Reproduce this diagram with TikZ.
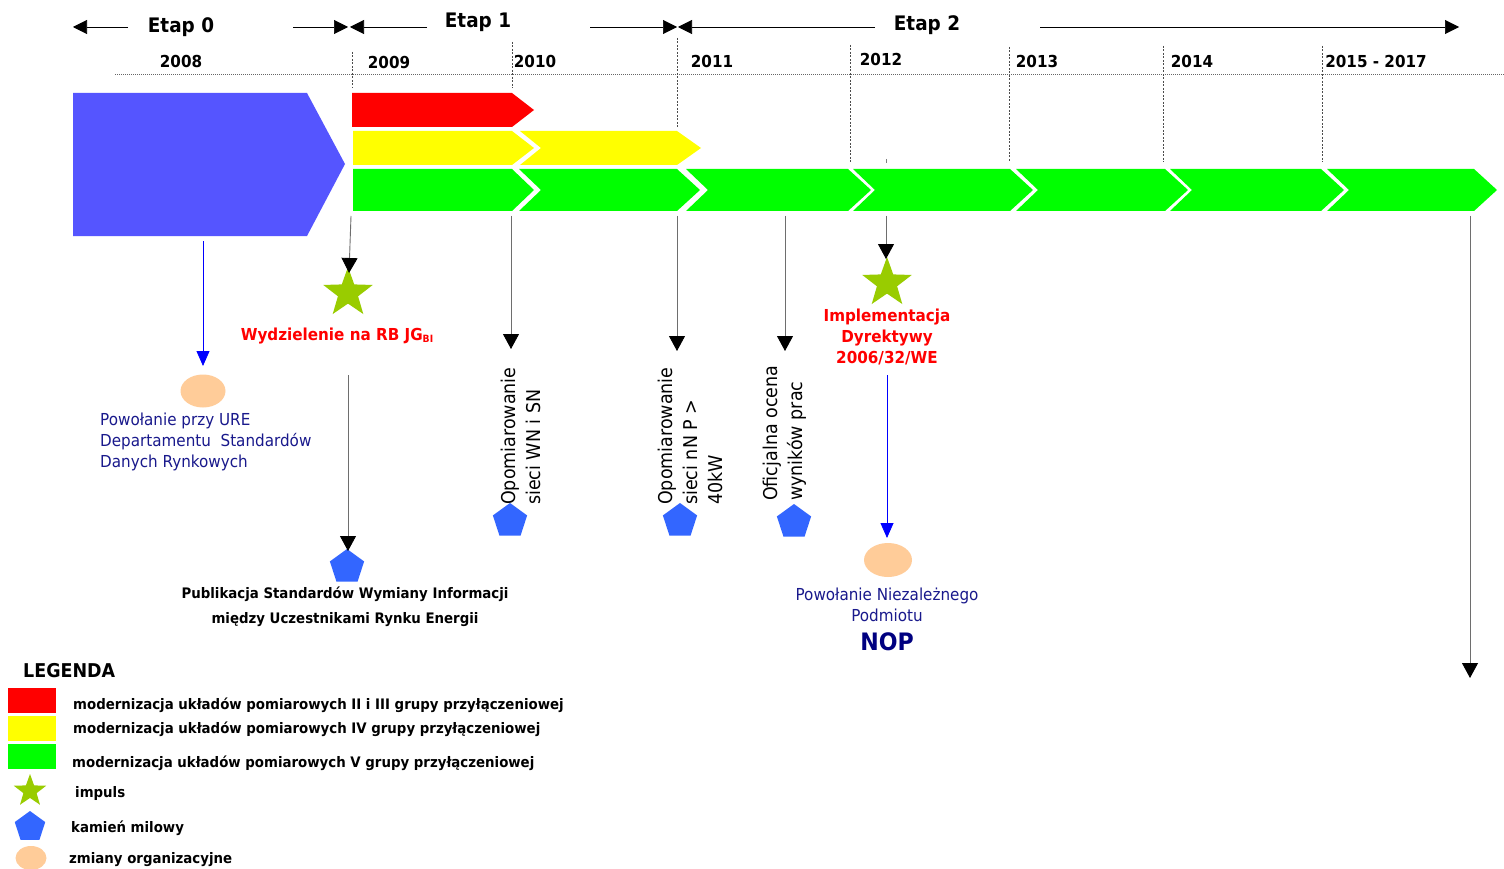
\documentclass[tikz,border=0pt]{standalone}
\usepackage{fontspec}
\setmainfont{DejaVu Sans}[FakeStretch=0.92]
\usetikzlibrary{arrows.meta,shapes.geometric}
\definecolor{blueblk}{RGB}{85,85,255}
\definecolor{ngreen}{RGB}{0,255,0}
\definecolor{nyellow}{RGB}{255,255,0}
\definecolor{nred}{RGB}{255,0,0}
\definecolor{stargreen}{RGB}{153,204,0}
\definecolor{pentblue}{RGB}{51,102,255}
\definecolor{orgpeach}{RGB}{255,204,153}
\definecolor{navytxt}{RGB}{25,25,140}
\definecolor{nopnavy}{RGB}{0,0,128}
\definecolor{linegray}{RGB}{110,110,110}
\tikzset{
  etaparrow/.style={draw=black,line width=0.6pt,-{Triangle[length=14pt,width=14pt]}},
  etaplbl/.style={font=\fontsize{20}{24}\selectfont\bfseries,inner sep=0pt},
  yearlbl/.style={font=\fontsize{16.5}{20}\selectfont\bfseries,inner sep=0pt},
  vdash/.style={draw=black!70,line width=0.6pt,dash pattern=on 2pt off 1.5pt},
  conn/.style={draw=linegray,line width=0.9pt,-{Triangle[length=15pt,width=16pt,color=black]}},
  bconn/.style={draw=blue,line width=0.8pt,-{Triangle[length=15pt,width=13pt,color=blue]}},
  impstar/.style={star,star points=5,star point ratio=2.45,fill=stargreen,minimum size=52pt,inner sep=0pt},
  milestone/.style={regular polygon,regular polygon sides=5,fill=pentblue,minimum size=36pt,inner sep=0pt},
  orgell/.style={ellipse,fill=orgpeach,minimum width=45pt,minimum height=33pt,inner sep=0pt},
  redlbl/.style={font=\fontsize{16.5}{21}\selectfont\bfseries,text=nred,align=center,inner sep=0pt},
  navylbl/.style={font=\fontsize{16.5}{21}\selectfont,text=navytxt,inner sep=0pt},
  rotlbl/.style={font=\fontsize{19}{25}\selectfont,rotate=90,anchor=west,align=left,inner sep=0pt},
  boldlbl/.style={font=\fontsize{14.5}{25}\selectfont\bfseries,align=center,inner sep=0pt},
  leglbl/.style={font=\fontsize{14.5}{18}\selectfont\bfseries,anchor=west,inner sep=0pt},
}
\begin{document}
\begin{tikzpicture}[x=1pt,y=-1pt]
\useasboundingbox (0,0) rectangle (1504,869);
\fill[white] (0,0) rectangle (1504,869);

% ---- Etap headers
\node[etaplbl] (e0) at (181,27) {Etap 0};
\node[etaplbl] (e1) at (478,22) {Etap 1};
\node[etaplbl] (e2) at (927,25) {Etap 2};
\coordinate (e0l) at (73,27); \coordinate (e0r) at (348,27);
\coordinate (e1l) at (350,27); \coordinate (e1r) at (677,27);
\coordinate (e2l) at (678,27); \coordinate (e2r) at (1459,27);
\draw[etaparrow] (128,27) -- (e0l);
\draw[etaparrow] (293,27) -- (e0r);
\draw[etaparrow] (427,27) -- (e1l);
\draw[etaparrow] (590,27) -- (e1r);
\draw[etaparrow] (875,27) -- (e2l);
\draw[etaparrow] (1040,27) -- (e2r);

% ---- years
\node[yearlbl] (y08) at (181,61) {2008};
\node[yearlbl] (y09) at (389,62) {2009};
\node[yearlbl] (y10) at (535,61) {2010};
\node[yearlbl] (y11) at (712,61) {2011};
\node[yearlbl] (y12) at (881,59) {2012};
\node[yearlbl] (y13) at (1037,61) {2013};
\node[yearlbl] (y14) at (1192,61) {2014};
\node[yearlbl] (y15) at (1376,61) {2015 - 2017};
\draw[draw=black!60,line width=0.6pt,dash pattern=on 1pt off 1pt] (115,74) -- (1504,74);
\draw[vdash] (352,52) -- (352,88);
\draw[vdash] (512,42) -- (512,88);
\draw[vdash] (677,38) -- (677,127);
\draw[vdash] (850,45) -- (850,163);
\draw[vdash] (1009,47) -- (1009,162);
\draw[vdash] (1163,46) -- (1163,162);
\draw[vdash] (1322,46) -- (1322,162);
\draw[black!50,line width=0.5pt] (886,159) -- (886,163);

% ---- bars
\fill[blueblk] (73,93) -- (307,93) -- (345,164) -- (307,236) -- (73,236) -- cycle;
\fill[nred] (352,93) -- (512,93) -- (534,110) -- (512,127) -- (352,127) -- cycle;
\fill[nyellow] (353,131) -- (512,131) -- (534,148) -- (512,165) -- (353,165) -- cycle;
\fill[nyellow] (520,131) -- (677,131) -- (701,148) -- (677,165) -- (520,165) -- (541,148) -- cycle;
\fill[ngreen] (353,169) -- (512,169) -- (534,190) -- (512,211) -- (353,211) -- cycle;
\foreach \a/\b in {519/677,686/848,853/1010,1016/1165,1170/1321,1327/1474}{
  \fill[ngreen] (\a,169) -- (\b,169) -- ({\b+23},190) -- (\b,211) -- (\a,211) -- ({\a+22},190) -- cycle;
}

% ---- events
\coordinate (c0) at (203,241);
\node[orgell] (o1) at (203,391) {};
\draw[bconn] (c0) -- (203,366);
\node[navylbl,anchor=north west,align=left] (t1) at (100,413) {Powołanie przy URE\\Departamentu\ \ Standardów\\Danych Rynkowych};

\coordinate (c1) at (351,216);
\node[impstar] (s1) at (348,293) {};
\draw[conn] (c1) -- (349,273);
\node[redlbl] (t2) at (337,336) {Wydzielenie na RB JG{\fontsize{10}{10}\selectfont\raisebox{-2.5pt}{BI}}};
\coordinate (c2) at (348,375);
\node[milestone] (p1) at (347,567) {};
\draw[conn] (c2) -- (348,551);
\node[boldlbl] (t3) at (345,607) {Publikacja Standardów Wymiany Informacji\\między Uczestnikami Rynku Energii};

\coordinate (c3) at (511,216);
\draw[conn] (c3) -- (511,349);
\node[rotlbl] (t4) at (521,505) {Opomiarowanie\\sieci WN i SN};
\node[milestone] (p2) at (510,521) {};

\coordinate (c4) at (677,216);
\draw[conn] (c4) -- (677,351);
\node[rotlbl] (t5) at (690,505) {Opomiarowanie\\sieci nN P >\\40kW};
\node[milestone] (p3) at (680,521) {};

\coordinate (c5) at (785,216);
\draw[conn] (c5) -- (785,351);
\node[rotlbl] (t6) at (785,501) {Oficjalna ocena\\wyników prac};
\node[milestone] (p4) at (794,522) {};

\coordinate (c6) at (886,216);
\node[impstar] (s2) at (887,283) {};
\draw[conn] (c6) -- (886,259);
\node[redlbl] (t7) at (887,337) {Implementacja\\Dyrektywy\\2006/32/WE};
\coordinate (c7) at (887,375);
\node[orgell,minimum width=48pt,minimum height=34pt] (o2) at (888,560) {};
\draw[bconn] (c7) -- (887,538);
\node[navylbl,align=center] (t8) at (887,605) {Powołanie Niezależnego\\Podmiotu};
\node[font=\fontsize{24}{28}\selectfont\bfseries,text=nopnavy,inner sep=0pt] (t9) at (887,642) {NOP};

\coordinate (c8) at (1470,216);
\coordinate (c9) at (1470,678);
\draw[conn] (c8) -- (c9);

% ---- legend
\node[font=\fontsize{19}{22}\selectfont\bfseries,anchor=west,inner sep=0pt] (leg) at (23,671) {LEGENDA};
\fill[nred] (8,688) rectangle (56,713);
\fill[nyellow] (8,716) rectangle (56,741);
\fill[ngreen] (8,744) rectangle (56,769);
\node[leglbl] (l1) at (73,705) {modernizacja układów pomiarowych II i III grupy przyłączeniowej};
\node[leglbl] (l2) at (73,729) {modernizacja układów pomiarowych IV grupy przyłączeniowej};
\node[leglbl] (l3) at (72,763) {modernizacja układów pomiarowych V grupy przyłączeniowej};
\node[impstar,minimum size=34pt] (ls) at (30,791) {};
\node[leglbl] (l4) at (75,793) {impuls};
\node[milestone,minimum size=32pt] (lp) at (30,827) {};
\node[leglbl] (l5) at (71,828) {kamień milowy};
\node[orgell,minimum width=31pt,minimum height=24pt] (lo) at (31,858) {};
\node[leglbl] (l6) at (69,860) {zmiany organizacyjne};
\end{tikzpicture}
\end{document}
